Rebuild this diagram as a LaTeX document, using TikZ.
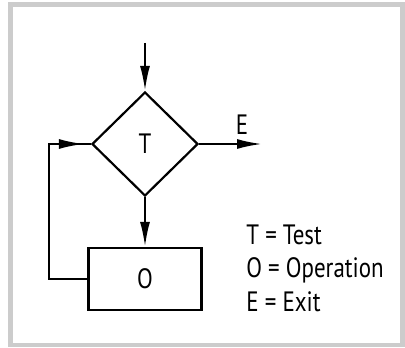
\documentclass[tikz,border=0pt]{standalone}
\usepackage{fontspec}
\setmainfont{PT Sans}[FakeStretch=0.82]
\usepackage{tikz}
\usetikzlibrary{arrows.meta}
\usetikzlibrary{shapes.geometric}
\tikzset{
  teste/.style={draw, diamond, line width=1.1pt, inner sep=0pt, minimum width=53pt, minimum height=52pt, font=\fontsize{14}{16}\selectfont},
  operacao/.style={draw, rectangle, line width=1.1pt, inner sep=0pt, minimum width=56.5pt, minimum height=31pt, font=\fontsize{14}{16}\selectfont},
  linha/.style={line width=1.1pt},
  seta/.style={-{Latex[length=12.5pt, width=5pt]}, line width=1.1pt},
}
\begin{document}
\begin{tikzpicture}[x=0.5pt, y=-0.5pt]
  \useasboundingbox (0,0) rectangle (405,347);
  \draw[gray!40, line width=2.25pt] (10.5,4.5) rectangle (402.5,345);
  % fluxograma
  \node[teste] (t) at (145,144) {T};
  \node[operacao] (o) at (145,279) {O};
  \coordinate (entrada) at (145,43);
  \coordinate (saida) at (262,144);
  \coordinate (canto) at (49,144);
  \draw[seta] (entrada) -- (t.north);
  \draw[seta] (t.east) -- (saida);
  \node[font=\fontsize{14}{16}\selectfont] (e) at (242,125) {E};
  \draw[seta] (t.south) -- (o.north);
  \draw[linha] (o.west) -| (canto) -- (t.west);
  \draw[seta] (canto) -- ([xshift=-3.5pt]t.west);
  % legenda
  \node[anchor=west, align=left, inner sep=0pt, font=\fontsize{14}{16.75}\selectfont] (leg) at (246,268)
    {T = Test\\O = Operation\\E = Exit};
\end{tikzpicture}
\end{document}
